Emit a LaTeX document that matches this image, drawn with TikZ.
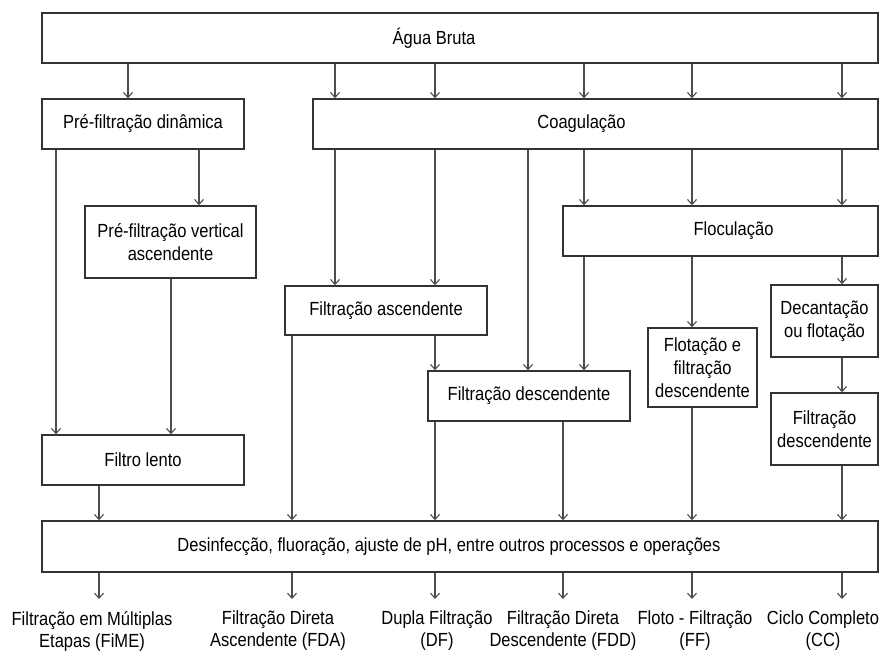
\documentclass[tikz,border=0pt]{standalone}
\usepackage{fontspec}
\setmainfont{Liberation Sans}[FakeStretch=0.87]
\usetikzlibrary{arrows}
\usetikzlibrary{arrows.meta}
\usetikzlibrary{calc}
\tikzstyle{StepBox}=[rectangle, draw=black!80, line width=1.5pt, align=center, inner sep=2pt, font=\fontsize{19}{23}\selectfont]
\tikzstyle{WideBox}=[StepBox, minimum width=836pt, minimum height=50pt]
\tikzstyle{HalfBox}=[StepBox, minimum width=202pt, minimum height=50pt]
\tikzstyle{NarrowBox}=[StepBox, minimum width=107pt, minimum height=72pt]
\tikzstyle{OutText}=[align=center, anchor=north, inner xsep=1pt, inner ysep=12pt, font=\fontsize{19}{22}\selectfont]
\tikzstyle{FlowEdge}=[-{Straight Barb[length=5pt, width=9pt]}, draw=black!70, line width=1.1pt]

\begin{document}
\begin{tikzpicture}[x=1pt, y=-1pt]
\useasboundingbox (0,0) rectangle (882,653);
% columns of the vertical connectors
\coordinate(cA) at (56,0);
\coordinate(cB) at (99,0);
\coordinate(cC) at (128,0);
\coordinate(cD) at (171,0);
\coordinate(cE) at (199,0);
\coordinate(cF) at (292,0);
\coordinate(cG) at (335,0);
\coordinate(cH) at (435,0);
\coordinate(cI) at (528,0);
\coordinate(cJ) at (563,0);
\coordinate(cK) at (584,0);
\coordinate(cL) at (692,0);
\coordinate(cM) at (842,0);

% boxes
\node[WideBox](Agua) at (460,38) {Água Bruta\hspace*{52pt}};
\node[HalfBox](PreDin) at (143,124) {Pré-filtração dinâmica};
\node[StepBox, minimum width=565pt, minimum height=50pt](Coag) at (595.5,124) {Coagulação\hspace*{28pt}};
\node[StepBox, minimum width=171pt, minimum height=72pt](PreVert) at (170.5,242) {Pré-filtração vertical\\ascendente};
\node[StepBox, minimum width=315pt, minimum height=50pt](Floc) at (720.5,231) {\hspace*{26pt}Floculação};
\node[HalfBox, minimum height=49pt](FiltAsc) at (386,310.5) {Filtração ascendente};
\node[HalfBox](FiltDesc) at (529,396) {Filtração descendente};
\node[StepBox, minimum width=109pt, minimum height=79pt](Flot) at (702.5,367.5) {Flotação e\\filtração\\descendente};
\node[NarrowBox](Decant) at (824.5,321) {Decantação\\ou flotação};
\node[NarrowBox](FiltDescB) at (824.5,429) {Filtração\\descendente};
\node[HalfBox](Lento) at (143,460) {Filtro lento};
\node[WideBox, minimum height=51pt](Final) at (460,546.5) {Desinfecção, fluoração, ajuste de pH, entre outros processos e operações\hspace*{22pt}};

% resulting treatment technologies
\node[OutText](FiME) at (92,599) {Filtração em Múltiplas\\Etapas (FiME)};
\node[OutText](FDA) at (278,599) {Filtração Direta\\Ascendente (FDA)};
\node[OutText](DF) at (437,599) {Dupla Filtração\\(DF)};
\node[OutText](FDD) at (563,599) {Filtração Direta\\Descendente (FDD)};
\node[OutText](FF) at (695,599) {Floto - Filtração\\(FF)};
\node[OutText](CC) at (823,599) {Ciclo Completo\\(CC)};

% from raw water
\draw[FlowEdge](Agua.south -| cC) -- (PreDin.north -| cC);
\draw[FlowEdge](Agua.south -| cG) -- (Coag.north -| cG);
\draw[FlowEdge](Agua.south -| cH) -- (Coag.north -| cH);
\draw[FlowEdge](Agua.south -| cK) -- (Coag.north -| cK);
\draw[FlowEdge](Agua.south -| cL) -- (Coag.north -| cL);
\draw[FlowEdge](Agua.south -| cM) -- (Coag.north -| cM);

% pre-filtration branch
\draw[FlowEdge](PreDin.south -| cA) -- (Lento.north -| cA);
\draw[FlowEdge](PreDin.south -| cE) -- (PreVert.north -| cE);
\draw[FlowEdge](PreVert.south -| cD) -- (Lento.north -| cD);
\draw[FlowEdge](Lento.south -| cB) -- (Final.north -| cB);

% coagulation branch
\draw[FlowEdge](Coag.south -| cG) -- (FiltAsc.north -| cG);
\draw[FlowEdge](Coag.south -| cH) -- (FiltAsc.north -| cH);
\draw[FlowEdge](Coag.south -| cI) -- (FiltDesc.north -| cI);
\draw[FlowEdge](Coag.south -| cK) -- (Floc.north -| cK);
\draw[FlowEdge](Coag.south -| cL) -- (Floc.north -| cL);
\draw[FlowEdge](Coag.south -| cM) -- (Floc.north -| cM);
\draw[FlowEdge](FiltAsc.south -| cF) -- (Final.north -| cF);
\draw[FlowEdge](FiltAsc.south -| cH) -- (FiltDesc.north -| cH);
\draw[FlowEdge](Floc.south -| cK) -- (FiltDesc.north -| cK);
\draw[FlowEdge](Floc.south -| cL) -- (Flot.north -| cL);
\draw[FlowEdge](Floc.south -| cM) -- (Decant.north -| cM);
\draw[FlowEdge](FiltDesc.south -| cH) -- (Final.north -| cH);
\draw[FlowEdge](FiltDesc.south -| cJ) -- (Final.north -| cJ);
\draw[FlowEdge](Flot.south -| cL) -- (Final.north -| cL);
\draw[FlowEdge](Decant.south -| cM) -- (FiltDescB.north -| cM);
\draw[FlowEdge](FiltDescB.south -| cM) -- (Final.north -| cM);

% to the outputs
\draw[FlowEdge](Final.south -| cB) -- (FiME.north -| cB);
\draw[FlowEdge](Final.south -| cF) -- (FDA.north -| cF);
\draw[FlowEdge](Final.south -| cH) -- (DF.north -| cH);
\draw[FlowEdge](Final.south -| cJ) -- (FDD.north -| cJ);
\draw[FlowEdge](Final.south -| cL) -- (FF.north -| cL);
\draw[FlowEdge](Final.south -| cM) -- (CC.north -| cM);
\end{tikzpicture}
\end{document}
